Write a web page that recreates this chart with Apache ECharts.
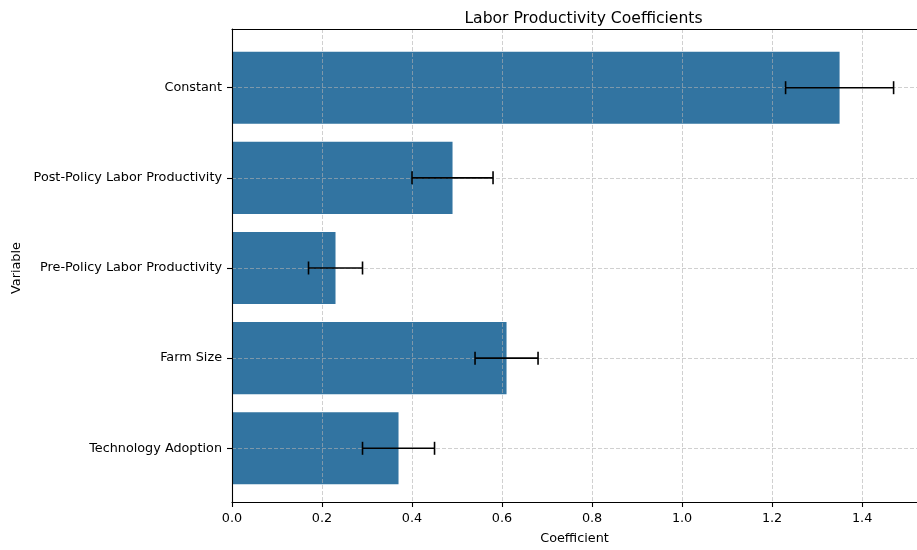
<!DOCTYPE html>
<html>
<head>
<meta charset="utf-8">
<script src="https://cdn.jsdelivr.net/npm/echarts@6/dist/echarts.min.js"></script>
<style>
  html, body { margin: 0; padding: 0; background: #fff; }
  #chart { width: 917px; height: 550px; }
</style>
</head>
<body>
<div id="chart"></div>
<script>
// Regression coefficients with their error margins (top to bottom)
const variables = ['Constant', 'Post-Policy Labor Productivity', 'Pre-Policy Labor Productivity', 'Farm Size', 'Technology Adoption'];
const coefficients = [1.35, 0.49, 0.23, 0.61, 0.37];
const errors = [0.12, 0.09, 0.06, 0.07, 0.08];
const xTicks = [0, 0.2, 0.4, 0.6, 0.8, 1.0, 1.2, 1.4];

const FONT = 'DejaVu Sans';
const BAR_COLOR = '#3274a1';
const GRID_COLOR = 'rgba(176,176,176,0.6)';

// visible part of the coefficient axis
const xMax = 1.522;

const plotLeft = 232, plotTop = 29, plotBottom = 506;
// centres of the first and last category rows
const firstCenter = 87.7, lastCenter = 448.3;

const chart = echarts.init(document.getElementById('chart'), null, { renderer: 'canvas' });

const option = {
  animation: false,
  backgroundColor: '#fff',
  textStyle: { fontFamily: FONT },
  title: {
    text: 'Labor Productivity Coefficients',
    left: 578.5,
    textAlign: 'center',
    top: 6,
    textStyle: { fontFamily: FONT, fontSize: 15.6, fontWeight: 'normal', color: '#000' }
  },
  grid: [
    { left: plotLeft, top: plotTop, right: 0, height: plotBottom - plotTop, containLabel: false },
    { left: plotLeft, top: firstCenter, right: 0, height: lastCenter - firstCenter, containLabel: false }
  ],
  xAxis: [
    {
      gridIndex: 0, type: 'value', min: 0, max: xMax, interval: 0.2, z: 5,
      name: 'Coefficient', nameLocation: 'middle', nameGap: 30,
      nameTextStyle: { fontFamily: FONT, fontSize: 12.8, color: '#000' },
      axisLine: { show: true, lineStyle: { color: '#000', width: 1.1 } },
      axisTick: { show: true, length: 5, lineStyle: { color: '#000', width: 1.1 } },
      axisLabel: {
        show: true, margin: 10, fontFamily: FONT, fontSize: 12.8, color: '#000',
        showMaxLabel: false,
        formatter: v => (xTicks.some(t => Math.abs(t - v) < 1e-9) ? v.toFixed(1) : '')
      },
      splitLine: { show: true, lineStyle: { color: GRID_COLOR, type: [4, 2], width: 1 } }
    },
    {
      gridIndex: 0, type: 'value', min: 0, max: xMax, position: 'top', z: 6,
      axisLine: { show: true, onZero: false, lineStyle: { color: '#000', width: 1.1 } },
      axisTick: { show: false }, axisLabel: { show: false }, splitLine: { show: false }
    },
    {
      gridIndex: 1, type: 'value', min: 0, max: xMax, show: false
    }
  ],
  yAxis: [
    {
      gridIndex: 0, type: 'value', min: 0, max: 1, z: 7,
      axisLine: { show: true, lineStyle: { color: '#000', width: 1.1 } },
      axisTick: { show: false }, axisLabel: { show: false }, splitLine: { show: false }
    },
    {
      gridIndex: 1, type: 'category', data: variables, inverse: true, boundaryGap: false, z: 5,
      name: 'Variable', nameLocation: 'middle', nameGap: 208, nameRotate: 90,
      nameTextStyle: { fontFamily: FONT, fontSize: 12.8, color: '#000' },
      axisLine: { show: false },
      axisTick: { show: true, length: 5, lineStyle: { color: '#000', width: 1.1 } },
      axisLabel: { show: true, margin: 10, fontFamily: FONT, fontSize: 12.8, color: '#000' },
      splitLine: { show: true, lineStyle: { color: GRID_COLOR, type: [4, 2], width: 1 } }
    }
  ],
  series: [
    {
      type: 'bar',
      xAxisIndex: 2, yAxisIndex: 1,
      data: coefficients,
      barWidth: (lastCenter - firstCenter) / (variables.length - 1) * 0.8,
      clip: false,
      itemStyle: { color: BAR_COLOR },
      z: 2
    },
    {
      type: 'custom',
      xAxisIndex: 2, yAxisIndex: 1,
      clip: false,
      z: 10,
      data: coefficients.map((c, i) => [c - errors[i], c + errors[i], i]),
      renderItem: function (params, api) {
        const lo = api.coord([api.value(0), api.value(2)]);
        const hi = api.coord([api.value(1), api.value(2)]);
        const cap = 6.5;
        const style = { stroke: '#000', lineWidth: 1.6 };
        return {
          type: 'group',
          children: [
            { type: 'line', shape: { x1: lo[0], y1: lo[1], x2: hi[0], y2: hi[1] }, style },
            { type: 'line', shape: { x1: lo[0], y1: lo[1] - cap, x2: lo[0], y2: lo[1] + cap }, style },
            { type: 'line', shape: { x1: hi[0], y1: hi[1] - cap, x2: hi[0], y2: hi[1] + cap }, style }
          ]
        };
      }
    }
  ]
};

chart.setOption(option);
</script>
</body>
</html>
